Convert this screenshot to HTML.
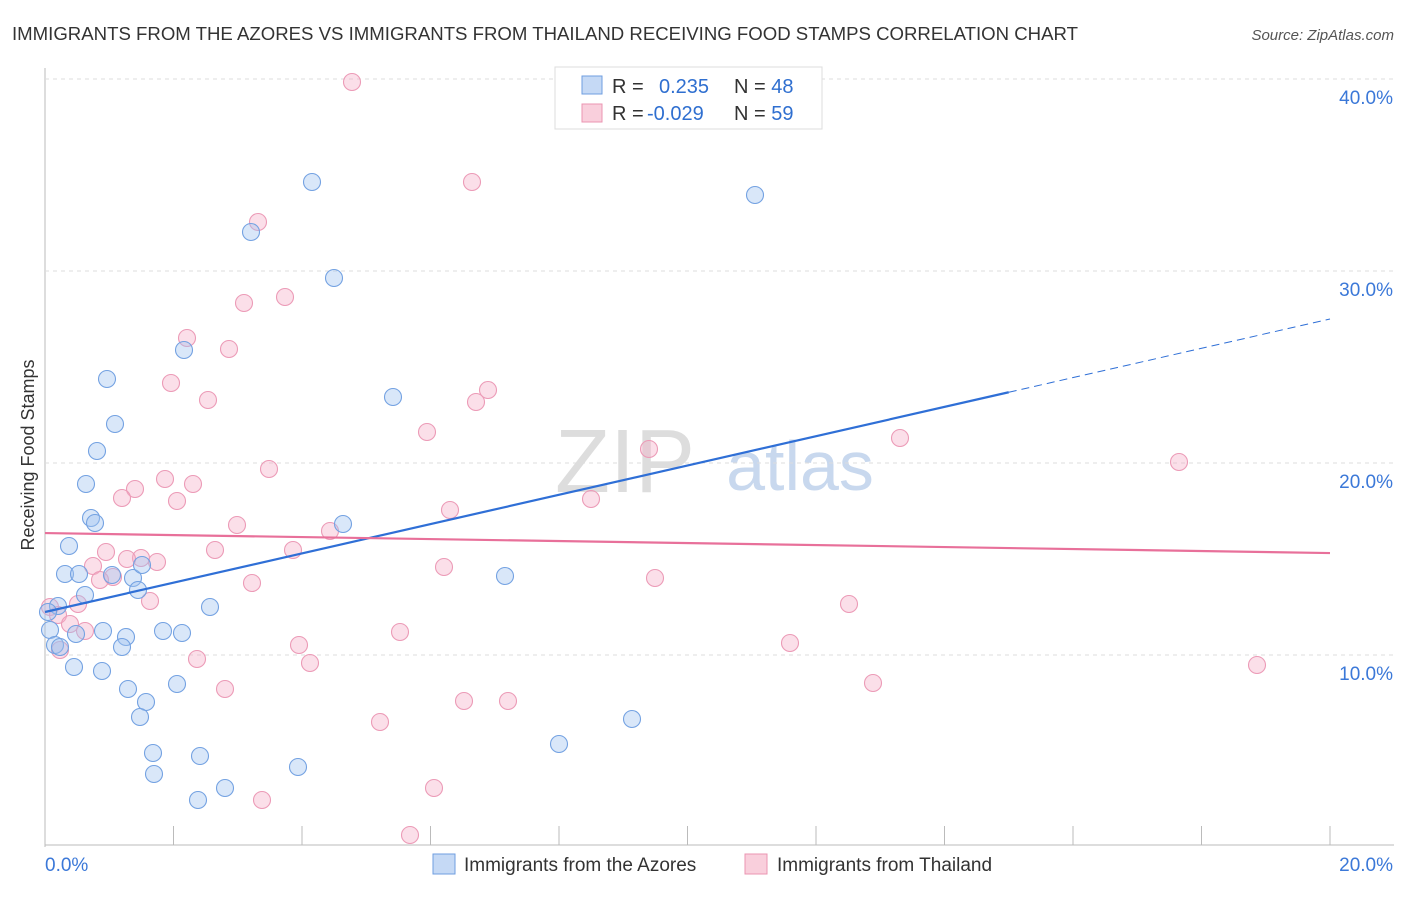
<!DOCTYPE html>
<html><head><meta charset="utf-8"><style>
body{margin:0;background:#fff;font-family:"Liberation Sans",sans-serif}
svg text{font-family:"Liberation Sans",sans-serif}
</style></head><body>
<svg id="c" width="1406" height="892" xmlns="http://www.w3.org/2000/svg">
<text x="12" y="40" font-size="18" textLength="1066" lengthAdjust="spacingAndGlyphs" fill="#333">IMMIGRANTS FROM THE AZORES VS IMMIGRANTS FROM THAILAND RECEIVING FOOD STAMPS CORRELATION CHART</text>
<text x="1394" y="40" font-size="15" fill="#555" font-style="italic" text-anchor="end">Source: ZipAtlas.com</text>
<text transform="translate(34,455) rotate(-90)" font-size="18" fill="#333" text-anchor="middle">Receiving Food Stamps</text>
<text x="625" y="492" font-size="90" fill="#ddd" font-family="Liberation Serif" text-anchor="middle">ZIP</text>
<text x="800" y="490" font-size="70" fill="#c8d8ee" text-anchor="middle">atlas</text>
<g id="grid"></g><g id="pts"></g><g id="lines"></g>
<g>
<rect x="555" y="67" width="267" height="62" fill="#fff" stroke="#ddd"/>
<rect x="582" y="76" width="20" height="18" fill="#c5d9f5" stroke="#6f9ee0"/>
<rect x="582" y="104" width="20" height="18" fill="#f9cfdc" stroke="#eb94b2"/>
<text x="612" y="93" font-size="20" fill="#333">R =  <tspan fill="#2f6fd0" x="659">0.235</tspan><tspan fill="#333" x="734">N = </tspan><tspan fill="#2f6fd0">48</tspan></text>
<text x="612" y="120" font-size="20" fill="#333">R = <tspan fill="#2f6fd0" x="647">-0.029</tspan><tspan fill="#333" x="734">N = </tspan><tspan fill="#2f6fd0">59</tspan></text>
</g>
<g>
<rect x="433" y="854" width="22" height="20" fill="#c5d9f5" stroke="#6f9ee0"/>
<text x="464" y="871" font-size="19" fill="#333">Immigrants from the Azores</text>
<rect x="745" y="854" width="22" height="20" fill="#f9cfdc" stroke="#eb94b2"/>
<text x="777" y="871" font-size="19" fill="#333">Immigrants from Thailand</text>
</g>
</svg>
<script>
const yTicks=[10,20,30,40];
const xTickLabels=["0.0%","20.0%"];
const blueX=[312,251,334,755,184,107,393,115,97,86,91,95,343,69,65,79,112,133,142,138,85,58,48,210,50,76,103,126,163,182,122,55,60,74,102,505,128,177,146,140,632,153,200,559,154,298,225,198].map(p=>(p-45)/1285*20);
const blueY=[182,232,278,195,350,379,397,424,451,484,518,523,524,546,574,574,575,578,565,590,595,606,612,607,630,634,631,637,631,633,647,645,647,667,671,576,689,684,702,717,719,753,756,744,774,767,788,800].map(p=>(847-p)/19.2);
const pinkX=[352,472,258,285,244,187,229,171,208,488,476,427,649,900,1179,269,165,193,135,122,177,591,450,237,330,106,215,293,141,157,127,93,113,100,444,655,252,150,78,50,849,58,70,85,400,299,790,60,197,310,1257,225,873,464,508,380,262,434,410].map(p=>(p-45)/1285*20);
const pinkY=[82,182,222,297,303,338,349,383,400,390,402,432,449,438,462,469,479,484,489,498,501,499,510,525,531,552,550,550,558,562,559,566,577,580,567,578,583,601,604,607,604,615,624,631,632,645,643,650,659,663,665,689,683,701,701,722,800,788,835].map(p=>(847-p)/19.2);
const blueTrend=[12.24,27.5];
const pinkTrend=[16.35,15.31];
const X=v=>45+v/20*1285, Y=v=>847-v*19.2;
const NS="http://www.w3.org/2000/svg";
function mk(t,a,p){const e=document.createElementNS(NS,t);for(const k in a)e.setAttribute(k,a[k]);p.appendChild(e);return e;}
const g=document.getElementById('grid');
let ax=mk('line',{x1:45,y1:68,x2:45,y2:847,stroke:'#bbb'},g);


let bx=mk('line',{x1:45,y1:845,x2:1394,y2:845,stroke:'#bbb'},g);


yTicks.forEach(t=>{
 const l=mk('line',{x1:45,y1:Y(t),x2:1394,y2:Y(t),stroke:'#ddd','stroke-dasharray':'4,4'},g);
 
 
 const tx=mk('text',{x:1393,y:Y(t)+25,'font-size':19,fill:'#3b78d8','text-anchor':'end'},g);tx.textContent=t.toFixed(1)+'%';
 
 
});
for(let i=1;i<=10;i++){const l=mk('line',{x1:X(i*2),y1:826,x2:X(i*2),y2:845,stroke:'#bbb'},g);
 
 }
[[45,'start',0],[1393,'end',1]].forEach(([x,a,i])=>{const t=mk('text',{x:x,y:871,'font-size':19,fill:'#3b78d8','text-anchor':a},g);t.textContent=xTickLabels[i];
 
 });
const pg=document.getElementById('pts');
pinkX.forEach((x,i)=>{const c=mk('circle',{cx:X(x),cy:Y(pinkY[i]),r:8.5,fill:'rgba(245,175,200,0.4)',stroke:'#ec9bb7','stroke-width':1.1},pg);
 
 });
blueX.forEach((x,i)=>{const c=mk('circle',{cx:X(x),cy:Y(blueY[i]),r:8.5,fill:'rgba(160,195,240,0.4)',stroke:'#74a2e2','stroke-width':1.1},pg);
 
 });
const lg=document.getElementById('lines');
const bt=v=>blueTrend[0]+(blueTrend[1]-blueTrend[0])*v/20;
let l1=mk('line',{x1:X(0),y1:Y(bt(0)),x2:X(15),y2:Y(bt(15)),stroke:'#2f6fd6','stroke-width':2.2},lg);


let l2=mk('line',{x1:X(15),y1:Y(bt(15)),x2:X(20),y2:Y(bt(20)),stroke:'#2f6fd6','stroke-width':1,'stroke-dasharray':'8,5'},lg);


let l3=mk('line',{x1:X(0),y1:Y(pinkTrend[0]),x2:X(20),y2:Y(pinkTrend[1]),stroke:'#e8709a','stroke-width':2.2},lg);


</script>
</body></html>
